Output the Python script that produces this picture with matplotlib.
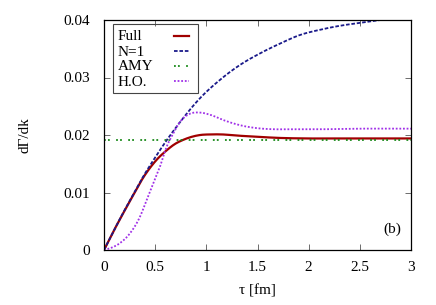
import matplotlib
matplotlib.use('Agg')
import matplotlib.pyplot as plt
from matplotlib.patches import Rectangle
import numpy as np

# values
tau_full = [0.0, 0.1, 0.2, 0.3, 0.38, 0.45, 0.52, 0.61, 0.69, 0.78, 0.86, 0.94,
            1.04, 1.15, 1.3, 1.49, 1.7, 1.98, 2.3, 2.6, 3.0]
full = [0.0, 0.0035, 0.0068, 0.0100, 0.0125, 0.0143, 0.0158, 0.0173, 0.0184, 0.0192,
        0.0197, 0.0200, 0.0201, 0.0201, 0.0199, 0.0197, 0.0195, 0.0194, 0.0194, 0.0194, 0.0194]

tau_n1 = [0.0, 0.1, 0.2, 0.3, 0.384, 0.5, 0.613, 0.75, 0.938, 1.134, 1.33, 1.525,
          1.72, 1.916, 2.11, 2.307, 2.5, 2.7]
n1 = [0.0, 0.0035, 0.0069, 0.0101, 0.0128, 0.0161, 0.0191, 0.0224, 0.0264, 0.0296,
      0.0322, 0.0342, 0.0359, 0.0374, 0.0383, 0.0390, 0.0395, 0.0400]

amy = 0.0192

tau_ho = [0.0, 0.059, 0.156, 0.254, 0.352, 0.417, 0.482, 0.547, 0.613, 0.678, 0.743,
          0.84, 0.938, 1.04, 1.166, 1.33, 1.49, 1.655, 1.82, 2.14, 2.5, 3.0]
ho = [0.0, 0.0003, 0.0012, 0.0029, 0.0058, 0.0087, 0.0116, 0.0145, 0.0180, 0.0203, 0.0223,
      0.0237, 0.0239, 0.0235, 0.0226, 0.0217, 0.0212, 0.0210, 0.0210, 0.0210, 0.0211, 0.0211]


def smooth(x, y, n=300):
    # cubic hermite through the read points
    x = np.asarray(x)
    y = np.asarray(y)
    xs = np.linspace(x[0], x[-1], n)
    h = np.diff(x)
    d = np.diff(y) / h
    m = np.zeros_like(y)
    m[1:-1] = (d[:-1] * h[1:] + d[1:] * h[:-1]) / (h[:-1] + h[1:])
    m[0] = d[0]
    m[-1] = d[-1]
    idx = np.clip(np.searchsorted(x, xs) - 1, 0, len(x) - 2)
    t = (xs - x[idx]) / h[idx]
    h00 = 2 * t**3 - 3 * t**2 + 1
    h10 = t**3 - 2 * t**2 + t
    h01 = -2 * t**3 + 3 * t**2
    h11 = t**3 - t**2
    ys = h00 * y[idx] + h10 * h[idx] * m[idx] + h01 * y[idx + 1] + h11 * h[idx] * m[idx + 1]
    return xs, ys


plt.rcParams['font.family'] = ['Liberation Serif', 'DejaVu Serif']

W, H = 436, 305
fig = plt.figure(figsize=(W / 100, H / 100), dpi=100)
ax = fig.add_axes([104 / W, 1 - 250 / H, 307 / W, 230 / H])

styles = [
    ('Full', dict(color='#a00000', lw=1.6)),
    ('N=1', dict(color='#1a1a8a', lw=1.3, dashes=(2.0, 1.0))),
    ('AMY', dict(color='#1a8a1a', lw=1.3, dashes=(1.0, 1.2, 1.0, 3.5))),
    ('H.O.', dict(color='#a030e8', lw=1.3, dashes=(1.0, 1.0))),
]

x, y = smooth(tau_full, full)
ax.plot(x, y, **styles[0][1])
x, y = smooth(tau_n1, n1)
ax.plot(x, y, **styles[1][1])
ax.plot([0, 3], [amy, amy], **styles[2][1])
x, y = smooth(tau_ho, ho)
ax.plot(x, y, **styles[3][1])

ax.set_xlim(0, 3)
ax.set_ylim(0, 0.04)
ax.set_xticks([0, 0.5, 1, 1.5, 2, 2.5, 3])
ax.set_xticklabels(['0', '0.5', '1', '1.5', '2', '2.5', '3'])
ax.set_yticks([0, 0.01, 0.02, 0.03, 0.04])
ax.set_yticklabels(['0', '0.01', '0.02', '0.03', '0.04'])
ax.tick_params(direction='in', top=True, right=True, length=4, width=0.6,
               labelsize=11, color='#555555')
ax.tick_params(axis='y', pad=10)
ax.tick_params(axis='x', pad=8)
for s in ax.spines.values():
    s.set_linewidth(0.9)

ax.set_xlabel('τ [fm]', fontsize=11, labelpad=7)
ax.set_ylabel('dΓ/dk', fontsize=11, labelpad=23)
ax.text(2.9, 0.0025, '(b)', fontsize=11, ha='right', va='bottom')

# legend box drawn by hand (gnuplot style: text left, sample right)
fx = lambda px: px / W
fy = lambda py: 1 - py / H
fig.add_artist(Rectangle((fx(113), fy(93)), (198 - 113) / W, (93 - 24) / H,
                         transform=fig.transFigure, fill=False,
                         edgecolor='#444444', lw=0.8))
rows = [37, 52, 67, 82]
for (label, st), py in zip(styles, rows):
    fig.text(fx(118), fy(py), label, fontsize=11, ha='left', va='center')
    fig.add_artist(plt.Line2D([fx(174), fx(189)], [fy(py - 1), fy(py - 1)],
                              transform=fig.transFigure, **st))

fig.savefig('out.png', dpi=100)
